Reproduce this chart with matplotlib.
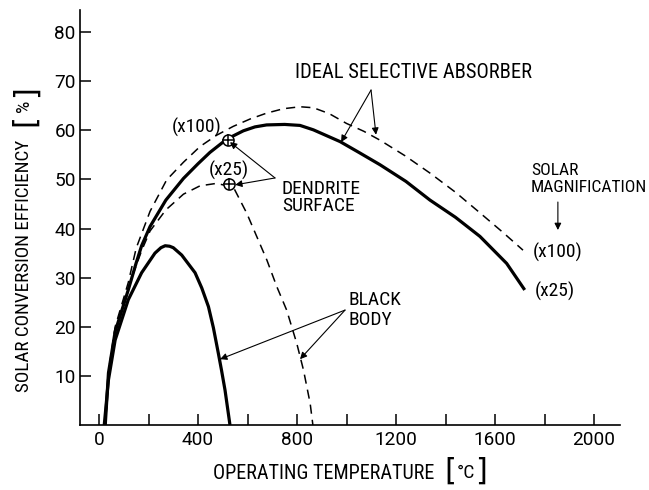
import matplotlib
matplotlib.use("Agg")
import matplotlib.pyplot as plt

FONT = ['Roboto Condensed', 'Roboto', 'DejaVu Sans']
plt.rcParams['font.family'] = FONT

# ideal selective absorber, x25 (solid) and x100 (dashed)
ideal25_t = [25, 38, 65, 118, 150, 172, 206, 270, 341, 400, 448, 516, 583, 630, 677, 750, 812,
             866, 974, 1050, 1135, 1240, 1337, 1440, 1539, 1647, 1720]
ideal25_eff = [0, 10.6, 19, 27.5, 33, 36.5, 40.4, 45.8, 50.2, 53.2, 55.5, 58.2, 59.9, 60.7, 61.1, 61.2, 61.0,
               60.1, 57.7, 55.5, 53, 49.6, 45.8, 42.3, 38.4, 32.9, 27.5]
ideal100_t = [25, 40, 65, 118, 150, 206, 273, 341, 408, 475, 542, 610, 677, 745, 812, 866,
              930, 1000, 1070, 1135, 1237, 1337, 1440, 1539, 1630, 1713]
ideal100_eff = [0, 11.5, 20, 29, 36, 43.5, 49.9, 53.5, 56.7, 59, 60.8, 62.3, 63.5, 64.4, 64.8, 64.6,
                63.4, 61.4, 59.8, 58, 54.8, 51.3, 47.4, 43.2, 39.3, 35.6]

# black body, x25 (solid) and x100 (dashed)
black25_t = [21, 38, 65, 118, 172, 226, 250, 267, 285, 300, 334, 388, 415, 442, 462, 482, 495, 509, 529]
black25_eff = [0, 9.2, 17.3, 25.5, 31, 35, 36.1, 36.5, 36.4, 36.1, 34.6, 31, 27.9, 24.1, 19.8, 14.6, 11.1, 7.1, 0]
black100_t = [25, 40, 65, 118, 172, 206, 270, 341, 408, 475, 543, 597, 637, 678, 718, 758,
              799, 826, 853, 864]
black100_eff = [0, 11, 19.5, 28, 35.5, 39.5, 43.8, 47, 48.7, 49.2, 48.4, 43.1, 38.4, 33.6, 28.2, 23.4,
                16.6, 11.2, 4.4, 0]

# dendrite surface measurements
dendrite_t = [521, 525]
dendrite_eff = [58.0, 49.1]

xticks = [0, 200, 400, 600, 800, 1000, 1200, 1400, 1600, 1800, 2000]
xticklabels = ['0', '', '400', '', '800', '', '1200', '', '1600', '', '2000']
yticks = [10, 20, 30, 40, 50, 60, 70, 80]

W, H = 649, 490
fig = plt.figure(figsize=(W / 100, H / 100), dpi=100)
ax = fig.add_axes([80 / W, 1 - 425 / H, 540 / W, 415 / H])

ax.plot(ideal25_t, ideal25_eff, color='black', lw=2.3, solid_capstyle='butt', solid_joinstyle='round')
ax.plot(ideal100_t, ideal100_eff, color='black', lw=1.1, linestyle=(0, (6, 4)))
ax.plot(black25_t, black25_eff, color='black', lw=2.3, solid_capstyle='butt', solid_joinstyle='round')
ax.plot(black100_t, black100_eff, color='black', lw=1.1, linestyle=(0, (6, 4)))

ax.plot(dendrite_t, dendrite_eff, 'o', ms=8, mfc='white', mec='black', mew=1.1)
ax.plot(dendrite_t, dendrite_eff, '+', ms=8, color='black', mew=1.1)

ax.set_xlim(-77, 2105)
ax.set_ylim(0, 84.5)
ax.set_xticks(xticks)
ax.set_xticklabels(xticklabels, fontsize=13.7, family=['Roboto', 'DejaVu Sans'])
ax.set_yticks(yticks)
ax.set_yticklabels([str(v) for v in yticks], fontsize=13.7, family=['Roboto', 'DejaVu Sans'])
ax.tick_params(axis='both', direction='in', length=8, width=1.1, pad=4)
ax.tick_params(axis='y', pad=3)
for s in ['top', 'right']:
    ax.spines[s].set_visible(False)
for s in ['left', 'bottom']:
    ax.spines[s].set_linewidth(1.2)

arrow = dict(arrowstyle='-|>', color='black', lw=0.8, mutation_scale=10, shrinkA=0, shrinkB=0)
fs = 14

ax.text(1271, 71.7, 'IDEAL SELECTIVE ABSORBER', fontsize=14.8, ha='center', va='center')
ax.annotate('', xy=(978, 57.6), xytext=(1099, 68.2), arrowprops=arrow)
ax.annotate('', xy=(1119, 59.1), xytext=(1099, 68.2), arrowprops=arrow)

ax.text(396, 60.5, '(x100)', fontsize=fs, ha='center', va='center')
ax.text(525, 51.9, '(x25)', fontsize=fs, ha='center', va='center')
ax.text(739, 46.3, 'DENDRITE\nSURFACE', fontsize=fs, ha='left', va='center', linespacing=0.95)
ax.annotate('', xy=(529, 57.6), xytext=(711, 50.3), arrowprops=arrow)
ax.annotate('', xy=(550, 48.9), xytext=(711, 50.3), arrowprops=arrow)

ax.text(1745, 50.1, 'SOLAR\nMAGNIFICATION', fontsize=12.6, ha='left', va='center', linespacing=1.12)
ax.annotate('', xy=(1854, 39.7), xytext=(1854, 45.4), arrowprops=arrow)
ax.text(1753, 35.2, '(x100)', fontsize=fs, ha='left', va='center')
ax.text(1762, 27.1, '(x25)', fontsize=fs, ha='left', va='center')

ax.text(1006, 23.4, 'BLACK\nBODY', fontsize=fs, ha='left', va='center', linespacing=1.1)
ax.annotate('', xy=(489, 13.4), xytext=(994, 23.4), arrowprops=arrow)
ax.annotate('', xy=(812, 13.4), xytext=(994, 23.4), arrowprops=arrow)

# axis titles with tall brackets
fig.text(213 / W, 1 - 473 / H, 'OPERATING TEMPERATURE', fontsize=14.5, ha='left', va='center')
fig.text(450 / W, 1 - 471 / H, '[', fontsize=22, family='DejaVu Sans', ha='center', va='center')
fig.text(466 / W, 1 - 473 / H, '°C', fontsize=14, ha='center', va='center')
fig.text(481 / W, 1 - 471 / H, ']', fontsize=22, family='DejaVu Sans', ha='center', va='center')

fig.text(24 / W, 1 - 392 / H, 'SOLAR CONVERSION EFFICIENCY', fontsize=13.8,
         rotation=90, ha='center', va='bottom')
fig.text(25 / W, 1 - 120 / H, '[', fontsize=22, family='DejaVu Sans', rotation=90, ha='center', va='center')
fig.text(24 / W, 1 - 106 / H, '%', fontsize=14, rotation=90, ha='center', va='center')
fig.text(25 / W, 1 - 91 / H, ']', fontsize=22, family='DejaVu Sans', rotation=90, ha='center', va='center')

fig.savefig('out.png', dpi=100)
